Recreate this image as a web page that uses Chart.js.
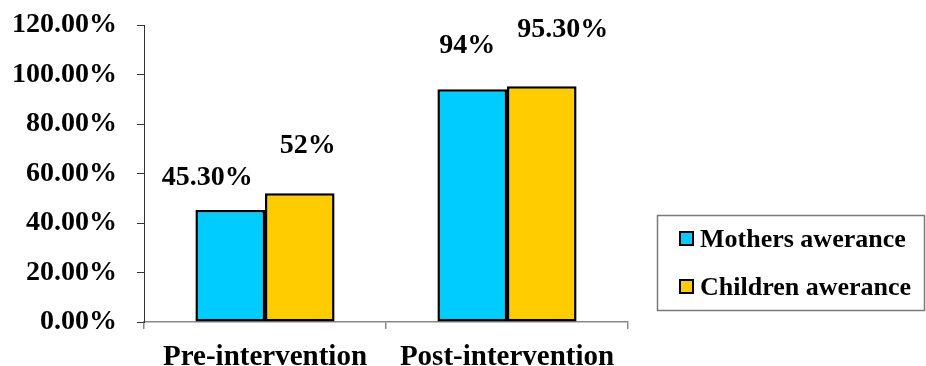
<!DOCTYPE html>
<html>
<head>
<meta charset="utf-8">
<script src="https://cdn.jsdelivr.net/npm/chart.js@4/dist/chart.umd.min.js"></script>
<style>
  html, body { margin: 0; padding: 0; background: #fff; }
  #wrap { width: 926px; height: 366px; }
</style>
</head>
<body>
<div id="wrap"><canvas id="c" width="926" height="366"></canvas></div>
<script>
// Awareness before and after the intervention (percent)
const categories = ['Pre-intervention', 'Post-intervention'];
const mothersAwareness = [45.3, 94];
const childrenAwareness = [52, 95.3];
const seriesNames = ['Mothers awerance', 'Children awerance'];
const yTicks = [0, 20, 40, 60, 80, 100, 120];

const FONT = '"Liberation Serif", "Times New Roman", serif';

// value label text: whole numbers without decimals, others with two
function valueText(v) {
  return Number.isInteger(v) ? v + '%' : v.toFixed(2) + '%';
}

// per-bar label nudges [dataset][category] relative to the bar top
const labelNudgeX = [[-23, -5], [8, 21]];
const labelNudgeY = [[32, 44], [48, 56]];

const valueLabels = {
  id: 'valueLabels',
  afterDatasetsDraw(chart) {
    const ctx = chart.ctx;
    ctx.save();
    ctx.font = 'bold 28px ' + FONT;
    ctx.fillStyle = '#000';
    ctx.textAlign = 'center';
    ctx.textBaseline = 'middle';
    chart.data.datasets.forEach((ds, di) => {
      chart.getDatasetMeta(di).data.forEach((bar, i) => {
        ctx.fillText(valueText(ds.data[i]), bar.x + labelNudgeX[di][i], bar.y - labelNudgeY[di][i]);
      });
    });
    ctx.restore();
  }
};

// boxed legend drawn to the right of the plot
const boxLegend = {
  id: 'boxLegend',
  afterDraw(chart) {
    const ctx = chart.ctx;
    const area = chart.chartArea;
    const left = area.right + 29;
    const right = chart.width - 2;
    const top = area.bottom - 107;
    const bottom = area.bottom - 12;
    ctx.save();
    ctx.strokeStyle = '#7a7a7a';
    ctx.lineWidth = 1.5;
    ctx.strokeRect(left + 0.5, top + 0.5, right - left, bottom - top);
    ctx.font = 'bold 26px ' + FONT;
    ctx.textBaseline = 'middle';
    ctx.textAlign = 'left';
    chart.data.datasets.forEach((ds, i) => {
      const cy = top + 24 + i * 48;
      const sx = left + 23;
      ctx.fillStyle = ds.backgroundColor;
      ctx.fillRect(sx, cy - 7, 13, 13);
      ctx.lineWidth = 2;
      ctx.strokeStyle = '#000';
      ctx.strokeRect(sx, cy - 7, 13, 13);
      ctx.fillStyle = '#000';
      ctx.fillText(ds.label, sx + 20, cy + 1);
    });
    ctx.restore();
  }
};

new Chart(document.getElementById('c'), {
  type: 'bar',
  data: {
    labels: categories,
    datasets: [
      {
        label: seriesNames[0],
        data: mothersAwareness,
        backgroundColor: '#00CCFF',
        borderColor: '#000',
        borderWidth: 2.5,
        borderSkipped: false
      },
      {
        label: seriesNames[1],
        data: childrenAwareness,
        backgroundColor: '#FFCC00',
        borderColor: '#000',
        borderWidth: 2.5,
        borderSkipped: false
      }
    ]
  },
  options: {
    responsive: false,
    animation: false,
    devicePixelRatio: 1,
    layout: { padding: { top: 25, right: 298, bottom: 0, left: 0 } },
    datasets: { bar: { categoryPercentage: 0.575, barPercentage: 1 } },
    plugins: {
      legend: { display: false },
      tooltip: { enabled: false }
    },
    scales: {
      x: {
        grid: { drawOnChartArea: false, drawTicks: true, tickLength: 7, offset: true, color: '#888', lineWidth: 1.5 },
        border: { display: true, color: '#888', width: 1.5 },
        ticks: { color: '#000', font: { family: FONT, size: 29, weight: 'bold' }, padding: 11 },
        afterFit(scale) { scale.height = 44; scale.paddingLeft = 0; scale.paddingRight = 0; }
      },
      y: {
        min: 0,
        max: 120,
        afterBuildTicks(scale) { scale.ticks = yTicks.map(v => ({ value: v })); },
        grid: { drawOnChartArea: false, drawTicks: true, tickLength: 7, color: '#333', lineWidth: 1 },
        border: { display: true, color: '#333', width: 1 },
        ticks: {
          color: '#000',
          padding: 20,
          font: { family: FONT, size: 28, weight: 'bold' },
          callback: v => v.toFixed(2) + '%'
        },
        afterFit(scale) { scale.width = 144; scale.paddingTop = 0; scale.paddingBottom = 0; }
      }
    }
  },
  plugins: [valueLabels, boxLegend]
});
</script>
</body>
</html>
